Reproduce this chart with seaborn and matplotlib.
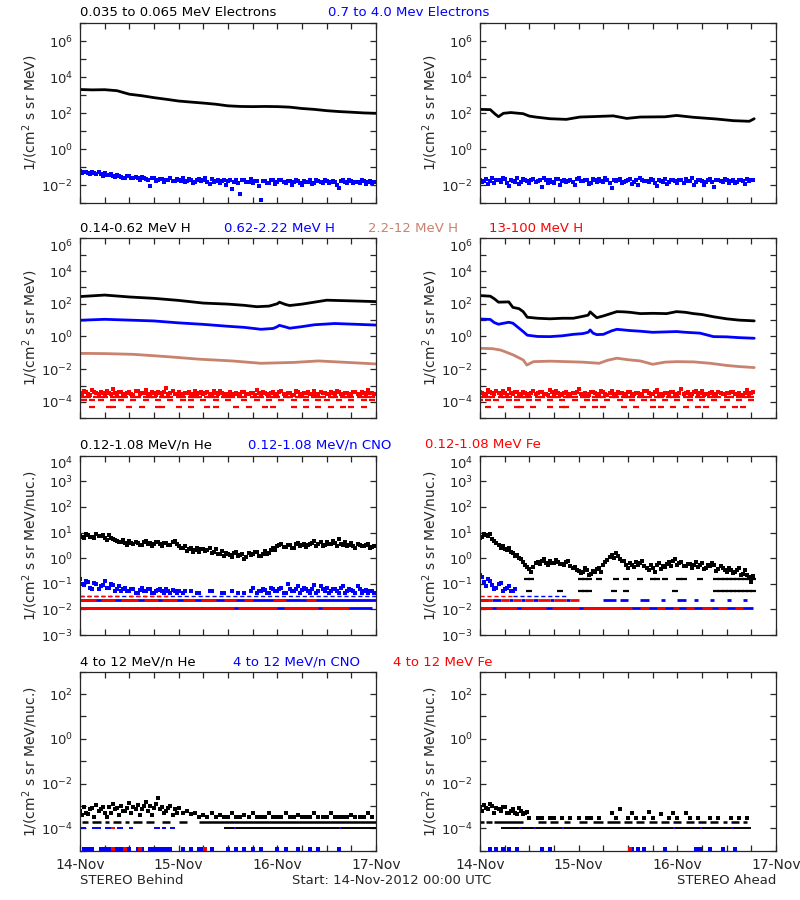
import numpy as np
import matplotlib
matplotlib.use("Agg")
import matplotlib.pyplot as plt
import seaborn as sns

nan = np.nan
BLACK = "#000000"
BLUE = "#0000ff"
RED = "#ff0000"
BROWN = "#c8826e"

DAY_LABELS = ["14-Nov", "15-Nov", "16-Nov", "17-Nov"]

# ---------------- row 1 : electrons ----------------
e_lo_left_hrs = [0, 3, 6, 9, 12, 15, 18, 21, 24, 27, 30, 33, 36, 39, 42, 45, 48, 51, 54, 57, 60, 63, 66, 69, 72]
e_lo_left = [2100, 2000, 2050, 1800, 1150, 950, 740, 600, 480, 420, 370, 320, 260, 240, 235, 240,
             235, 220, 185, 165, 140, 125, 115, 105, 100]
e_hi_left = [0.060, 0.052, 0.048, 0.055, 0.044, 0.040, 0.046, 0.036, 0.033, 0.038, 0.030, 0.027,
             0.031, 0.026, 0.024, 0.029, 0.022, 0.009, 0.025, 0.020, 0.023, 0.019, 0.026, 0.018,
             0.021, 0.024, 0.017, 0.020, 0.015, 0.022, 0.019, 0.016, 0.023, 0.018, 0.014, 0.020,
             0.017, 0.006, 0.019, 0.0035, 0.021, 0.016, 0.013, 0.018, 0.0015, 0.017, 0.014, 0.019,
             0.016, 0.020, 0.013, 0.017, 0.015, 0.018, 0.010, 0.016, 0.019, 0.014, 0.017, 0.013,
             0.018, 0.015, 0.016, 0.007, 0.019, 0.014, 0.017, 0.015, 0.013, 0.018, 0.016, 0.014]
e_hi_left_b = [0.050, 0.058, 0.042, 0.047, 0.052, 0.035, 0.039, 0.043, 0.029, 0.034, 0.027, 0.032,
               0.024, 0.028, 0.021, 0.026, 0.019, 0.024, 0.018, 0.022, 0.016, 0.021, 0.017, 0.023,
               0.018, 0.015, 0.022, 0.013, 0.019, 0.017, 0.024, 0.012, 0.016, 0.021, 0.018, 0.011,
               0.020, 0.016, 0.013, 0.019, 0.015, 0.022, 0.017, 0.009, 0.018, 0.014, 0.020, 0.012,
               0.019, 0.015, 0.017, 0.011, 0.020, 0.014, 0.018, 0.016, 0.012, 0.019, 0.015, 0.021,
               0.014, 0.017, 0.011, 0.018, 0.015, 0.020, 0.013, 0.016, 0.019, 0.012, 0.017, 0.015]
e_lo_right_hrs = [0, 2.5, 3.7, 4.5, 5.7, 7.5, 10.5, 12, 13.5, 17, 21, 24.3, 28, 32.4, 35.7, 39, 45,
                  47.8, 51.9, 57.6, 61.6, 65.5, 66.7]
e_lo_right = [165, 160, 90, 65, 100, 110, 95, 70, 62, 50, 46, 62, 66, 72, 52, 62, 64, 76, 60, 48, 39, 36, 50]
e_hi_right = [0.020, 0.017, 0.012, 0.024, 0.019, 0.015, 0.022, 0.009, 0.018, 0.025, 0.016, 0.020,
              0.013, 0.022, 0.017, 0.008, 0.021, 0.019, 0.014, 0.023, 0.018, 0.016, 0.020, 0.010,
              0.024, 0.017, 0.021, 0.013, 0.019, 0.022, 0.015, 0.020, 0.007, 0.018, 0.023, 0.016,
              0.020, 0.012, 0.019, 0.024, 0.017, 0.015, 0.021, 0.009, 0.018, 0.022, 0.016, 0.020,
              0.014, 0.019, 0.023, 0.017, 0.011, 0.020, 0.018, 0.015, 0.022, 0.008, 0.019, 0.016,
              0.021, 0.018, 0.013, 0.020, 0.017, 0.022, 0.019]
e_hi_right_b = [0.016, 0.022, 0.018, 0.013, 0.021, 0.025, 0.014, 0.019, 0.016, 0.012, 0.023, 0.017,
                0.021, 0.015, 0.019, 0.024, 0.013, 0.016, 0.022, 0.011, 0.020, 0.018, 0.015, 0.023,
                0.017, 0.020, 0.012, 0.022, 0.016, 0.018, 0.025, 0.014, 0.019, 0.021, 0.013, 0.017,
                0.023, 0.016, 0.010, 0.020, 0.018, 0.022, 0.014, 0.019, 0.016, 0.012, 0.021, 0.017,
                0.020, 0.013, 0.018, 0.024, 0.016, 0.019, 0.011, 0.021, 0.015, 0.020, 0.017, 0.023,
                0.014, 0.019, 0.016, 0.021, 0.012, 0.018, 0.020]

# ---------------- row 2 : protons ----------------
h1_left_hrs = [0, 6, 12, 18, 24, 30, 36, 40, 43, 46, 48, 48.5, 50, 51, 54, 57, 60, 66, 72]
h1_left = [275, 340, 260, 214, 160, 110, 95, 80, 66, 72, 100, 125, 90, 78, 95, 125, 165, 150, 135]
h2_left_hrs = [0, 6, 12, 18, 24, 30, 36, 40, 44, 47, 48, 48.5, 50, 51, 54, 57, 62, 72]
h2_left = [9.8, 11.2, 10, 8.9, 6.8, 5.5, 4.2, 3.6, 2.75, 3.1, 4.0, 4.8, 3.8, 3.2, 4.0, 5.2, 6.2, 5.0]
h3_left_hrs = [0, 6, 13, 21, 29, 37, 44, 52, 58, 65, 72]
h3_left = [0.093, 0.090, 0.081, 0.059, 0.041, 0.032, 0.023, 0.026, 0.032, 0.026, 0.021]
h4_left = [3.5e-4, 4.5e-4, 3.0e-4, 5.5e-4, 3.3e-4, 4.0e-4, 2.8e-4, 3.6e-4, 6.5e-4, 3.2e-4, 4.2e-4, 3.0e-4,
           3.8e-4, 2.8e-4, 4.6e-4, 3.3e-4, 5.2e-4, 3.0e-4, 3.5e-4, 4.0e-4, 2.8e-4, 7.0e-4, 3.4e-4, 3.0e-4,
           4.2e-4, 3.1e-4, 3.6e-4, 2.8e-4, 4.8e-4, 3.3e-4, 3.0e-4, 3.9e-4, 2.9e-4, 3.4e-4, 4.4e-4, 3.0e-4,
           3.2e-4, 2.8e-4, 3.7e-4, 3.0e-4, 4.1e-4, 2.9e-4, 3.3e-4, 5.0e-4, 3.0e-4, 3.6e-4, 2.8e-4, 3.9e-4,
           3.1e-4, 4.5e-4, 3.0e-4, 3.4e-4, 2.8e-4, 4.0e-4, 3.2e-4, 3.6e-4, 2.9e-4, 4.7e-4, 3.1e-4, 3.4e-4,
           3.0e-4, 3.8e-4, 2.8e-4, 4.3e-4, 3.2e-4, 3.5e-4, 3.0e-4, 4.0e-4, 2.9e-4, 3.3e-4, 5.0e-4, 3.6e-4]
h4_left_b = [3.0e-4, 3.8e-4, 2.8e-4, 4.2e-4, 3.1e-4, 3.5e-4, 4.6e-4, 2.9e-4, 3.3e-4, 4.0e-4, 2.8e-4, 3.6e-4,
             3.2e-4, 4.4e-4, 2.9e-4, 3.7e-4, 3.0e-4, 4.1e-4, 2.8e-4, 3.4e-4, 3.9e-4, 3.0e-4, 4.8e-4, 3.2e-4,
             2.9e-4, 3.6e-4, 4.2e-4, 3.1e-4, 2.8e-4, 3.8e-4, 3.3e-4, 2.9e-4, 4.5e-4, 3.0e-4, 3.5e-4, 2.8e-4,
             3.9e-4, 3.1e-4, 2.9e-4, 4.3e-4, 3.2e-4, 3.7e-4, 2.8e-4, 3.4e-4, 4.0e-4, 3.0e-4, 3.3e-4, 2.9e-4,
             4.1e-4, 3.2e-4, 3.6e-4, 2.8e-4, 4.4e-4, 3.0e-4, 3.5e-4, 3.9e-4, 3.1e-4, 2.8e-4, 4.2e-4, 3.3e-4,
             2.9e-4, 3.6e-4, 4.6e-4, 3.0e-4, 3.4e-4, 2.8e-4, 3.8e-4, 3.1e-4, 4.1e-4, 3.0e-4, 3.5e-4, 2.9e-4]
h4_left_lvl19_hrs = [0, 1, 2, 4, 5, 6, 8, 9, 10, 11, 13, 14, 16, 17, 18, 20, 21, 22, 24, 25, 27, 28, 29, 31,
                     32, 33, 35, 36, 37, 39, 40, 42, 43, 44, 46, 47, 48, 50, 51, 53, 54, 55, 57, 58, 59, 61,
                     62, 64, 65, 66, 68, 69, 70, 71]
h4_left_lvl13_hrs = [1, 3, 5, 8, 10, 13, 16, 19, 22, 25, 27, 30, 33, 36, 40, 43, 46, 49, 52, 55, 58, 60, 63,
                     66, 69, 71]
h4_left_lvl05_hrs = [3, 7, 8, 12, 15, 19, 20, 24, 27, 31, 33, 38, 41, 45, 47, 52, 55, 58, 61, 64, 66, 69]

h1_right_hrs = [0, 2.5, 3.5, 4.5, 7, 8, 9.5, 10.5, 11.5, 14, 17, 20, 22.7, 25, 26.3, 26.8, 27.5, 28.4, 30,
                32, 33.3, 35, 36.5, 39, 42, 45.4, 47.8, 50, 51.9, 54, 56.8, 60, 63, 66.7]
h1_right = [316, 290, 200, 125, 130, 60, 50, 33, 15, 13, 12, 13, 13, 17, 20, 32, 22, 14, 18, 26, 33, 32,
            30, 25, 26, 25, 33, 30, 25, 22, 16, 12, 10, 9]
h2_right_hrs = [0, 2.5, 3.5, 4.5, 7, 8, 9.5, 10.5, 11.5, 14, 17, 20, 22.7, 25, 26.3, 26.8, 27.5, 28.4, 30,
                32, 33.3, 36.5, 39, 42, 45, 47.8, 50, 53.5, 56.8, 60, 63, 66.7]
h2_right = [11.7, 11, 7, 5.6, 7.4, 6.5, 3.2, 2.0, 1.2, 1.0, 0.98, 1.1, 1.35, 1.5, 1.8, 2.5, 1.6, 1.3, 1.35,
            2.2, 2.75, 2.3, 2.1, 1.8, 1.9, 2.0, 1.8, 1.6, 0.98, 0.95, 0.85, 0.78]
h3_right_hrs = [0, 3, 4.9, 6, 8.1, 10.5, 11.4, 13, 17, 21, 25, 29, 31, 33.3, 36, 39, 42, 45, 47.8, 52, 56,
                60, 63, 66.7]
h3_right = [0.19, 0.18, 0.15, 0.12, 0.074, 0.037, 0.018, 0.029, 0.031, 0.029, 0.027, 0.023, 0.035, 0.047,
            0.038, 0.032, 0.020, 0.027, 0.029, 0.028, 0.023, 0.017, 0.0145, 0.0126]
h4_right = [4.0e-4, 3.0e-4, 5.5e-4, 3.4e-4, 4.4e-4, 2.9e-4, 3.7e-4, 6.0e-4, 3.1e-4, 4.2e-4, 3.0e-4, 3.6e-4,
            2.8e-4, 4.8e-4, 3.3e-4, 3.9e-4, 3.0e-4, 5.0e-4, 3.2e-4, 3.5e-4, 2.8e-4, 4.1e-4, 3.0e-4, 3.7e-4,
            6.5e-4, 3.2e-4, 2.9e-4, 4.3e-4, 3.4e-4, 3.0e-4, 3.8e-4, 2.8e-4, 4.6e-4, 3.2e-4, 3.5e-4, 2.9e-4,
            4.0e-4, 3.1e-4, 3.6e-4, 2.8e-4, 4.4e-4, 3.3e-4, 3.0e-4, 5.2e-4, 3.2e-4, 3.7e-4, 2.9e-4, 4.1e-4,
            3.1e-4, 6.0e-4, 3.3e-4, 3.0e-4, 3.8e-4, 2.8e-4, 4.5e-4, 3.2e-4, 3.5e-4, 3.0e-4, 4.0e-4, 2.9e-4,
            3.4e-4, 4.2e-4, 3.0e-4, 3.6e-4, 2.8e-4, 5.5e-4, 3.3e-4]
h4_right_b = [3.3e-4, 2.9e-4, 4.1e-4, 3.0e-4, 3.7e-4, 4.5e-4, 2.8e-4, 3.4e-4, 3.9e-4, 3.0e-4, 4.3e-4, 3.2e-4,
              3.6e-4, 2.9e-4, 4.0e-4, 3.1e-4, 2.8e-4, 3.8e-4, 4.4e-4, 3.0e-4, 3.3e-4, 2.9e-4, 3.7e-4, 4.2e-4,
              3.1e-4, 3.5e-4, 2.8e-4, 4.0e-4, 3.2e-4, 4.7e-4, 2.9e-4, 3.6e-4, 3.0e-4, 3.9e-4, 3.3e-4, 2.8e-4,
              4.2e-4, 3.1e-4, 3.4e-4, 2.9e-4, 4.5e-4, 3.0e-4, 3.8e-4, 3.2e-4, 2.8e-4, 3.6e-4, 4.1e-4, 3.0e-4,
              3.3e-4, 2.9e-4, 3.9e-4, 3.1e-4, 4.4e-4, 3.5e-4, 2.8e-4, 3.2e-4, 4.0e-4, 3.0e-4, 3.7e-4, 2.9e-4,
              3.4e-4, 4.3e-4, 3.1e-4, 2.8e-4, 3.6e-4, 3.0e-4, 3.9e-4]
h4_right_lvl19_hrs = [0, 1, 2, 3, 5, 6, 7, 9, 10, 11, 12, 14, 15, 17, 18, 19, 21, 22, 23, 25, 26, 28, 29, 30,
                      32, 33, 35, 36, 37, 39, 40, 41, 43, 44, 46, 47, 48, 50, 51, 53, 54, 56, 57, 58, 60, 61,
                      63, 64, 65, 66]
h4_right_lvl13_hrs = [0, 2, 4, 7, 9, 12, 14, 17, 20, 23, 26, 28, 31, 34, 37, 40, 42, 45, 48, 51, 54, 57, 60,
                      63, 66]
h4_right_lvl05_hrs = [2, 5, 9, 10, 13, 17, 20, 21, 25, 28, 30, 35, 38, 42, 44, 47, 50, 53, 55, 59, 62, 64]

# ---------------- row 3 : 0.12-1.08 MeV/n ions ----------------
he_left = [7.5, 6.2, 8.0, 6.8, 9.0, 7.2, 6.0, 7.8, 5.5, 4.8, 4.2, 3.8,
           4.5, 3.6, 4.0, 3.3, 4.6, 3.9, 3.5, 4.2, 3.1, 3.8, 3.4, 4.8,
           3.0, 2.4, 1.9, 2.5, 2.1, 1.7, 2.3, 2.0, 1.6, 2.2, 1.4, 1.2,
           1.5, 1.1, 1.7, 1.3, 0.9, 1.6, 1.4, 1.8, 1.2, 1.9, 1.6, 2.4,
           2.9, 3.6, 2.7, 3.3, 2.5, 3.9, 3.2, 2.8, 3.5, 4.6, 3.7, 3.1,
           4.3, 3.5, 3.9, 5.8, 3.4, 3.0, 3.8, 2.6, 3.2, 2.9, 3.6, 2.7]
he_left_b = [6.5, 8.5, 7.0, 6.0, 7.5, 8.2, 5.2, 6.4, 4.9, 4.1, 5.0, 3.4,
             3.9, 4.4, 3.2, 4.2, 3.6, 3.0, 4.4, 3.6, 4.0, 3.3, 4.1, 3.5,
             2.6, 2.9, 2.2, 1.8, 2.6, 2.2, 1.9, 2.6, 1.8, 1.5, 1.9, 1.6,
             1.3, 1.6, 1.2, 1.5, 1.1, 1.3, 1.7, 1.2, 1.5, 1.4, 2.0, 2.1,
             3.3, 2.8, 3.4, 2.6, 3.6, 2.9, 3.6, 3.3, 4.0, 3.0, 4.2, 3.4,
             3.7, 4.6, 3.1, 3.6, 4.2, 3.3, 2.9, 3.5, 3.0, 3.4, 2.6, 3.1]
cno_left = [0.15, 0.09, 0.12, 0.06, 0.10, 0.08, 0.13, 0.07, 0.09, 0.06, 0.05, 0.07,
            0.05, 0.06, 0.045, 0.07, 0.05, 0.06, 0.045, 0.055, 0.05, 0.06, 0.045, 0.05,
            0.05, 0.045, nan, 0.05, nan, 0.045, nan, nan, 0.05, nan, nan, 0.045,
            nan, 0.05, nan, nan, 0.045, nan, 0.07, 0.045, 0.05, 0.055, 0.045, 0.06,
            0.05, 0.07, 0.045, 0.06, 0.05, 0.08, 0.055, 0.06, 0.045, 0.09, 0.05, 0.06,
            0.07, 0.05, 0.06, 0.045, 0.08, 0.05, 0.055, 0.045, 0.06, 0.05, 0.045, 0.05]
cno_left_b = [0.10, 0.13, 0.07, 0.11, 0.06, 0.09, 0.07, 0.10, 0.05, 0.08, 0.06, 0.05,
              0.06, 0.045, 0.055, 0.05, 0.065, 0.045, 0.05, 0.06, 0.045, 0.05, 0.055, 0.045,
              nan, 0.05, nan, nan, 0.045, nan, nan, 0.05, nan, nan, 0.045, nan,
              nan, nan, 0.045, nan, nan, 0.05, nan, 0.05, 0.06, 0.045, 0.07, 0.05,
              0.06, 0.045, 0.10, 0.05, 0.065, 0.045, 0.07, 0.05, 0.06, 0.045, 0.08, 0.05,
              0.045, 0.06, 0.05, 0.07, 0.045, 0.06, 0.05, 0.08, 0.045, 0.055, 0.05, 0.045]
cno_left_lvl10_spans = [(0, 71)]
fe_left_lvl10_spans = [(0, 37.5), (38.5, 47.8), (49.5, 58), (58.8, 65.5)]
cno_left_lvl24_spans = [(0, 72)]
fe_left_lvl24_spans = [(0, 4), (5, 8.5), (10, 14), (15.5, 19), (20, 23.5), (25, 28), (29.5, 33), (35, 38),
                       (40, 42), (47, 50), (55, 57.5)]
cno_left_lvl34_spans = [(0, 72)]
fe_left_lvl34_spans = [(0, 10), (12, 22)]

he_right = [6.0, 9.0, 7.5, 5.5, 4.0, 2.6, 2.2, 2.4, 1.6, 1.3, 0.9, 0.55,
            0.38, 0.45, 0.70, 0.75, 0.62, 0.80, 0.66, 0.72, 0.58, 0.68, 0.50, 0.45,
            0.32, 0.28, 0.35, 0.25, 0.30, 0.42, 0.55, 0.85, 1.3, 1.6, 0.95, 0.75,
            0.40, 0.55, 0.70, 0.62, 0.48, 0.35, 0.40, 0.52, 0.38, 0.45, 0.68, 0.80,
            0.55, 0.70, 0.48, 0.60, 0.52, 0.45, 0.62, 0.40, 0.48, 0.55, 0.38, 0.42,
            0.30, 0.35, 0.28, 0.40, 0.25, 0.22, 0.12]
he_right_b = [7.0, 7.8, 8.5, 4.5, 3.3, 3.0, 2.0, 1.8, 1.2, 1.0, 0.70, 0.45,
              0.30, 0.62, 0.58, 0.90, 0.55, 0.66, 0.85, 0.60, 0.52, 0.75, 0.40, 0.35,
              0.26, 0.40, 0.22, 0.32, 0.38, 0.30, 0.70, 1.1, 1.0, 1.2, 0.80, 0.55,
              0.62, 0.45, 0.52, 0.80, 0.40, 0.55, 0.30, 0.62, 0.48, 0.58, 0.50, 0.95,
              0.65, 0.48, 0.60, 0.42, 0.70, 0.55, 0.38, 0.52, 0.62, 0.32, 0.50, 0.35,
              0.40, 0.26, 0.36, 0.22, 0.33, 0.18, 0.20]
he_right_lvl15_hrs = [11.5, 12.5, 24.5, 25.5, 26.5, 29, 33, 35.5, 39, 42, 43, 45, 48.5, 49.5, 53.5, 57.5,
                      58.5, 59.5, 60.5, 61.5, 62.5, 63.5, 64.5, 65.5, 66.5]
he_right_lvl05_hrs = [12, 19.5, 24.5, 25.5, 26.5, 32.5, 35.5, 47.5, 57.5, 58.5, 59.5, 60.5, 61.5, 62.5,
                      63.5, 64.5, 65.5, 66.5]
cno_right = [0.22, 0.12, 0.15, 0.09, 0.07, 0.11, 0.06, 0.08, 0.05]
cno_right_b = [0.18, 0.08, 0.13, 0.06, 0.10, 0.05, 0.07, 0.05, 0.06]
cno_right_lvl10_spans = [(0, 66.5)]
fe_right_lvl10_spans = [(0, 3), (4, 9), (10, 16), (17.5, 24), (25, 37), (39, 41), (43, 45), (47, 48.5),
                        (50, 52), (54, 56.5), (58, 60), (62, 64)]
cno_right_lvl24_spans = [(0, 2), (3, 5), (7, 8), (10, 11), (13, 14), (17, 18), (21, 22), (30, 33), (34, 36),
                         (39, 41), (44, 45), (48, 50), (52, 53), (56, 57), (60, 61), (64, 65)]
fe_right_lvl24_spans = [(0, 3), (5, 7), (8, 10), (11, 13), (14, 17), (18, 21), (22, 24)]
cno_right_lvl34_spans = [(8, 21)]
fe_right_lvl34_spans = [(0, 8)]

# ---------------- row 4 : 4-12 MeV/n ions ----------------
he4_left = [6e-4, 9e-4, 4.5e-4, 8e-4, 1.1e-3, 7e-4, 5e-4, 9e-4, 1.2e-3, 8e-4, 1.0e-3, 6e-4,
            1.3e-3, 9e-4, 1.1e-3, 7e-4, 1.5e-3, 1.0e-3, 8e-4, 2.2e-3, 9e-4, 6e-4, 1.0e-3, 7e-4,
            8e-4, 5e-4, 6e-4, 4.5e-4, 5e-4, 3.3e-4, 4e-4, 3.3e-4, 5e-4, 3.3e-4, 4e-4, 3.3e-4,
            3.3e-4, 5e-4, 3.3e-4, 3.3e-4, 4e-4, 3.3e-4, 5e-4, 3.3e-4, 3.3e-4, 3.3e-4, 5e-4, 3.3e-4,
            3.3e-4, 3.3e-4, 5e-4, 3.3e-4, 3.3e-4, 4e-4, 3.3e-4, 3.3e-4, 3.3e-4, 5e-4, 3.3e-4, 3.3e-4,
            3.3e-4, 5e-4, 3.3e-4, 3.3e-4, 3.3e-4, 3.3e-4, 4e-4, 3.3e-4, 3.3e-4, 3.3e-4, 5e-4, 3.3e-4]
he4_left_b = [4e-4, 5e-4, 7e-4, 3.3e-4, 6e-4, 9e-4, 3.3e-4, 5e-4, 7e-4, 4e-4, 6e-4, 8e-4,
              5e-4, 7e-4, 4e-4, 1.0e-3, 6e-4, 4e-4, 1.2e-3, 7e-4, 5e-4, 8e-4, 4e-4, 5e-4]
he4_left_lvl19_spans = [(0.5, 2), (3, 5), (6, 7), (8, 10), (11, 12), (13, 15), (16, 18), (20, 22), (24, 26),
                        (29, 72)]
he4_left_lvl10_spans = [(35, 37.5), (38, 63), (63.5, 72)]
cno4_left_lvl10_spans = [(0, 1.5), (3, 5), (6, 7.5), (9, 10.5), (12, 13), (18, 19.5), (20, 21), (22, 23),
                         (37.5, 38), (63, 63.5)]
fe4_left_lvl10_spans = [(7.5, 8.5)]
cno4_left_floor_hrs = [1, 2, 3, 5, 6, 7, 9, 10, 12, 14, 15, 17, 18, 19, 20, 21, 22, 25, 27, 29, 30, 32,
                       36, 38, 40, 42, 44, 48, 50, 53, 56, 58, 63]
fe4_left_floor_hrs = [8, 11, 14.5, 30.5]

he4_right = [9e-4, 1.1e-3, 7e-4, 1.0e-3, 8e-4, 6e-4, 9e-4, 5e-4, 7e-4, 4.5e-4, 6e-4, 5e-4]
he4_right_b = [6e-4, 8e-4, 1.2e-3, 5e-4, 7e-4, 9e-4, 4.8e-4, 6e-4, 5e-4, 8e-4, 4.5e-4, 5.5e-4]
he4_right_sparse_hrs = [12, 14, 15, 17, 18, 20, 22, 24, 26, 27, 29, 32, 33, 34, 36, 37, 38, 40, 41, 42, 44,
                        46, 47, 48, 50, 51, 53, 56, 58, 61, 63, 65]
he4_right_sparse = [3.0e-4, 3.0e-4, 3.0e-4, 3.0e-4, 3.0e-4, 3.0e-4, 3.0e-4, 3.0e-4, 3.0e-4, 3.0e-4,
                    3.0e-4, 5e-4, 3.0e-4, 7e-4, 3.0e-4, 4.8e-4, 3.0e-4, 3.0e-4, 5.5e-4, 3.0e-4, 4.5e-4,
                    3.0e-4, 5e-4, 3.0e-4, 4.6e-4, 3.0e-4, 3.0e-4, 3.0e-4, 3.0e-4, 3.0e-4, 3.0e-4, 3.0e-4]
he4_right_lvl19_spans = [(0, 1), (1.5, 3), (3.5, 10.5), (14, 16), (17, 19), (20.5, 22), (24, 26), (27.5, 30),
                         (31, 34), (35, 37), (38, 40), (41, 43), (44, 46), (47, 49), (50, 52), (53, 55),
                         (56, 58), (59, 60), (61, 63), (64, 65)]
he4_right_lvl10_spans = [(5, 20), (20.5, 47), (47.5, 66)]
cno4_right_lvl10_spans = [(9.5, 10), (13, 13.5), (20, 20.5), (47, 47.5), (53.5, 54), (61, 61.5)]
cno4_right_floor_hrs = [2.5, 4, 5.5, 7, 9, 15, 17, 37, 38.5, 40, 45, 52.5, 53.5, 56, 59, 62]
fe4_right_floor_hrs = [36.5]

# ---------------- drawing ----------------
sns.set_style("ticks")
plt.rcParams["font.family"] = ["DejaVu Sans"]
plt.rcParams["axes.linewidth"] = 0.9

fig = plt.figure(figsize=(8, 9), dpi=100)
W, H = 800.0, 900.0


def make_ax(x0, top, bottom):
    return fig.add_axes([x0 / W, 1 - bottom / H, 296 / W, (bottom - top) / H])


def curve(ax, hrs, vals, color):
    sns.lineplot(x=hrs, y=vals, ax=ax, color=color, linewidth=2.0, estimator=None, sort=False,
                 legend=False)


def dots(ax, hrs, vals, color, size=5):
    sns.scatterplot(x=hrs, y=vals, ax=ax, color=color, marker="s", s=size, linewidth=0, legend=False)


def dashes(ax, hrs, level, color):
    sns.scatterplot(x=hrs, y=[level] * len(hrs), ax=ax, color=color, marker="_", s=18, linewidth=1.6,
                    legend=False)


def spans(ax, level, segs, color, lw=2.0, ls="-"):
    ax.hlines([level] * len(segs), [a for a, b in segs], [b for a, b in segs], colors=color,
              linewidth=lw, linestyles=ls)


def style(ax, lo, hi, step, ylabel, bottom=False):
    ax.set_yscale("log")
    ax.set_ylim(10.0 ** lo, 10.0 ** hi)
    ax.set_xlim(0, 72)
    ax.set_yticks([10.0 ** k for k in range(lo, hi + 1)])
    ax.set_yticklabels([f"$10^{{{k}}}$" if k % step == 0 else "" for k in range(lo, hi + 1)])
    ax.yaxis.set_minor_locator(matplotlib.ticker.NullLocator())
    # the top labelled decade sits just under the frame, as in the original plot
    if hi % step == 0:
        ax.get_yticklabels()[-1].set_va("top")
    ax.set_xticks(range(0, 73, 6))
    if bottom:
        ax.set_xticklabels([DAY_LABELS[h // 24] if h % 24 == 0 else "" for h in range(0, 73, 6)])
    else:
        ax.set_xticklabels([])
    ax.tick_params(direction="in", top=True, right=True, length=4, width=0.9, labelsize=9.5, pad=5)
    ax.tick_params(axis="x", labelsize=10)
    ax.set_xlabel("")
    ax.set_ylabel(ylabel, fontsize=10)
    ax.yaxis.set_label_coords(-0.135, 0.5)


LBL_E = "1/(cm$^2$ s sr MeV)"
LBL_N = "1/(cm$^2$ s sr MeV/nuc.)"
hrs_l = np.arange(72)
hrs_r = np.arange(67)

# row 1
for x0, lo_h, lo_v, hi_v, hi_b, hh in [(80, e_lo_left_hrs, e_lo_left, e_hi_left, e_hi_left_b, hrs_l),
                                       (480, e_lo_right_hrs, e_lo_right, e_hi_right, e_hi_right_b, hrs_r)]:
    ax = make_ax(x0, 23.3, 203.3)
    dots(ax, hh, hi_v, BLUE, 8)
    dots(ax, hh + 0.5, hi_b, BLUE, 8)
    curve(ax, lo_h, lo_v, BLACK)
    style(ax, -3, 7, 2, LBL_E)

# row 2
for x0, a, b, c, red, red_b, hh, l19, l13, l05 in [
        (80, (h1_left_hrs, h1_left), (h2_left_hrs, h2_left), (h3_left_hrs, h3_left), h4_left, h4_left_b,
         hrs_l, h4_left_lvl19_hrs, h4_left_lvl13_hrs, h4_left_lvl05_hrs),
        (480, (h1_right_hrs, h1_right), (h2_right_hrs, h2_right), (h3_right_hrs, h3_right), h4_right,
         h4_right_b, hrs_r, h4_right_lvl19_hrs, h4_right_lvl13_hrs, h4_right_lvl05_hrs)]:
    ax = make_ax(x0, 238.3, 418.3)
    dots(ax, hh, red, RED, 7)
    dots(ax, hh + 0.5, red_b, RED, 7)
    dashes(ax, l19, 1.9e-4, RED)
    dashes(ax, l13, 1.3e-4, RED)
    dashes(ax, l05, 5e-5, RED)
    curve(ax, *c, BROWN)
    curve(ax, *b, BLUE)
    curve(ax, *a, BLACK)
    style(ax, -5, 6, 2, LBL_E)

# row 3
ax = make_ax(80, 455.7, 635)
spans(ax, 0.0115, cno_left_lvl10_spans, BLUE)
spans(ax, 0.0115, fe_left_lvl10_spans, RED)
spans(ax, 0.024, cno_left_lvl24_spans, BLUE)
spans(ax, 0.024, fe_left_lvl24_spans, RED)
spans(ax, 0.034, cno_left_lvl34_spans, BLUE, 1.0, (0, (3, 2)))
spans(ax, 0.034, fe_left_lvl34_spans, RED, 1.0, (0, (3, 2)))
dots(ax, hrs_l, cno_left, BLUE, 8)
dots(ax, hrs_l + 0.5, cno_left_b, BLUE, 8)
dots(ax, hrs_l, he_left, BLACK, 8)
dots(ax, hrs_l + 0.5, he_left_b, BLACK, 8)
style(ax, -3, 4, 1, LBL_N)

ax = make_ax(480, 455.7, 635)
spans(ax, 0.0115, cno_right_lvl10_spans, BLUE)
spans(ax, 0.0115, fe_right_lvl10_spans, RED)
spans(ax, 0.024, cno_right_lvl24_spans, BLUE)
spans(ax, 0.024, fe_right_lvl24_spans, RED)
spans(ax, 0.034, cno_right_lvl34_spans, BLUE, 1.0, (0, (3, 2)))
spans(ax, 0.034, fe_right_lvl34_spans, RED, 1.0, (0, (3, 2)))
dots(ax, np.arange(len(cno_right)), cno_right, BLUE, 8)
dots(ax, np.arange(len(cno_right_b)) + 0.5, cno_right_b, BLUE, 8)
dashes(ax, he_right_lvl15_hrs, 0.15, BLACK)
dashes(ax, he_right_lvl05_hrs, 0.05, BLACK)
dots(ax, hrs_r, he_right, BLACK, 6)
dots(ax, hrs_r + 0.5, he_right_b, BLACK, 6)
style(ax, -3, 4, 1, LBL_N)

# row 4
ax = make_ax(80, 671.7, 850.7)
spans(ax, 1.9e-4, he4_left_lvl19_spans, BLACK, 1.8)
spans(ax, 1e-4, he4_left_lvl10_spans, BLACK, 1.4)
spans(ax, 1e-4, cno4_left_lvl10_spans, BLUE, 1.4)
spans(ax, 1e-4, fe4_left_lvl10_spans, RED, 1.4)
dots(ax, cno4_left_floor_hrs, [1.2e-5] * len(cno4_left_floor_hrs), BLUE, 6)
dots(ax, fe4_left_floor_hrs, [1.2e-5] * len(fe4_left_floor_hrs), RED, 6)
dots(ax, hrs_l, he4_left, BLACK, 6)
dots(ax, np.arange(len(he4_left_b)) + 0.5, he4_left_b, BLACK, 6)
style(ax, -5, 3, 2, LBL_N, bottom=True)

ax = make_ax(480, 671.7, 850.7)
spans(ax, 1.9e-4, he4_right_lvl19_spans, BLACK, 1.8)
spans(ax, 1e-4, he4_right_lvl10_spans, BLACK, 1.4)
spans(ax, 1e-4, cno4_right_lvl10_spans, BLUE, 1.4)
dots(ax, cno4_right_floor_hrs, [1.2e-5] * len(cno4_right_floor_hrs), BLUE, 6)
dots(ax, fe4_right_floor_hrs, [1.2e-5] * len(fe4_right_floor_hrs), RED, 6)
dots(ax, np.arange(len(he4_right)), he4_right, BLACK, 6)
dots(ax, np.arange(len(he4_right_b)) + 0.5, he4_right_b, BLACK, 6)
dots(ax, he4_right_sparse_hrs, he4_right_sparse, BLACK, 5)
style(ax, -5, 3, 2, LBL_N, bottom=True)

# channel titles
titles = [
    (80, 13, "0.035 to 0.065 MeV Electrons", BLACK), (328, 13, "0.7 to 4.0 Mev Electrons", BLUE),
    (80, 228, "0.14-0.62 MeV H", BLACK), (224, 228, "0.62-2.22 MeV H", BLUE),
    (368, 228, "2.2-12 MeV H", BROWN), (489, 228, "13-100 MeV H", RED),
    (80, 445, "0.12-1.08 MeV/n He", BLACK), (248, 445, "0.12-1.08 MeV/n CNO", BLUE),
    (425, 445, "0.12-1.08 MeV Fe", RED),
    (80, 662, "4 to 12 MeV/n He", BLACK), (233, 662, "4 to 12 MeV/n CNO", BLUE),
    (393, 662, "4 to 12 MeV Fe", RED),
]
for x, y, s, c in titles:
    fig.text(x / W, 1 - y / H, s, color=c, fontsize=9.5, va="center", ha="left")

fig.text(80 / W, 1 - 881 / H, "STEREO Behind", fontsize=9.5, va="center", ha="left")
fig.text(292 / W, 1 - 881 / H, "Start: 14-Nov-2012 00:00 UTC", fontsize=9.5, va="center", ha="left")
fig.text(776 / W, 1 - 881 / H, "STEREO Ahead", fontsize=9.5, va="center", ha="right")

fig.savefig("out.png", dpi=100)
